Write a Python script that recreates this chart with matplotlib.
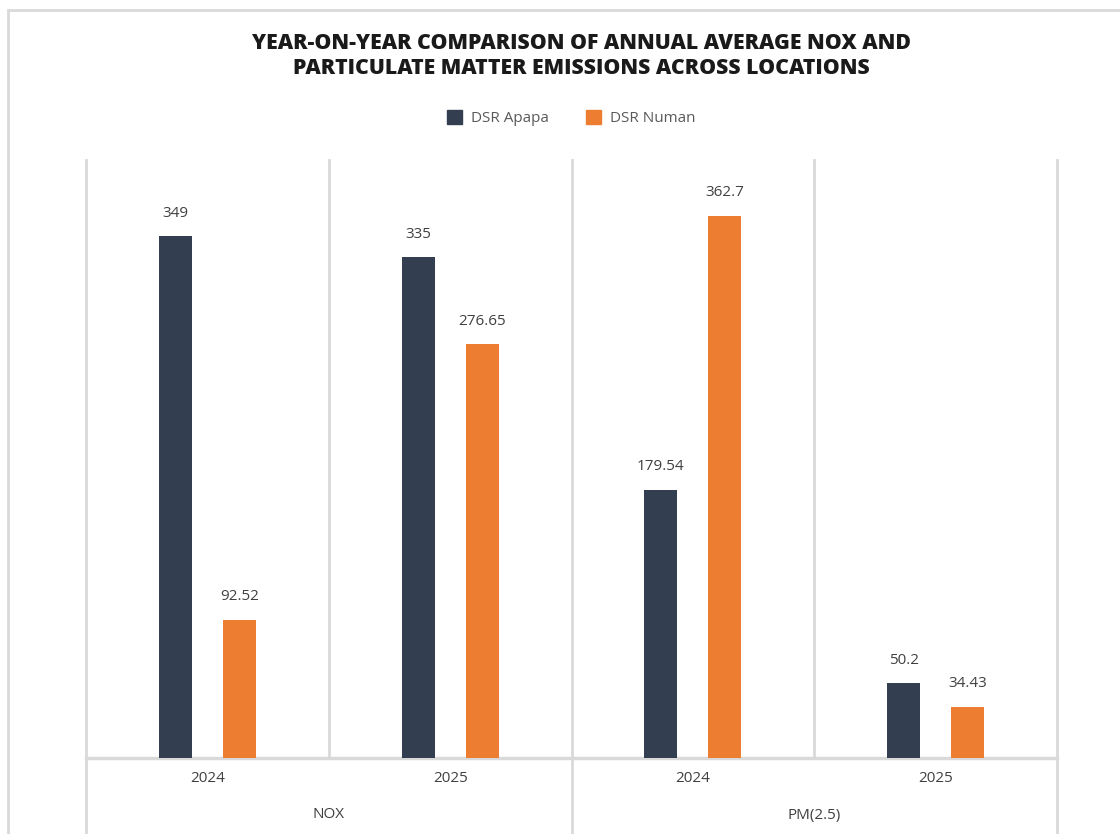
import matplotlib.pyplot as plt
import matplotlib.transforms as mtransforms
from matplotlib.patches import Rectangle, Patch
import numpy as np

plt.rcParams['font.family'] = ['Open Sans', 'DejaVu Sans']

# data
pollutants = ["NOX", "PM(2.5)"]
years = ["2024", "2025", "2024", "2025"]
apapa = [349, 335, 179.54, 50.2]
numan = [92.52, 276.65, 362.7, 34.43]
apapa_labels = ["349", "335", "179.54", "50.2"]
numan_labels = ["92.52", "276.65", "362.7", "34.43"]

C_APAPA = "#333f50"
C_NUMAN = "#ed7d31"
GRID = "#d9d9d9"
TXT = "#404040"

fig = plt.figure(figsize=(11.2, 8.34), dpi=100)
fig.patch.set_facecolor("white")

# outer frame (cropped at right/bottom)
fig.patches.append(Rectangle((8 / 1120, -0.1), 1.2, 1 - 10 / 834 + 0.1,
                             transform=fig.transFigure, fill=False,
                             edgecolor=GRID, linewidth=2))

ax = fig.add_axes([86 / 1120, 1 - 758 / 834, (1057 - 86) / 1120, (758 - 160) / 834])

x = np.arange(len(years))
w = 0.136
off = 0.132
b1 = ax.bar(x - off, apapa, w, color=C_APAPA, label="DSR Apapa", zorder=3)
b2 = ax.bar(x + off, numan, w, color=C_NUMAN, label="DSR Numan", zorder=3)

for bars, labs in [(b1, apapa_labels), (b2, numan_labels)]:
    for bar, lab in zip(bars, labs):
        ax.annotate(lab, (bar.get_x() + bar.get_width() / 2, bar.get_height()),
                    xytext=(0, 11), textcoords="offset points",
                    ha="center", va="bottom", fontsize=11, color=TXT)

ax.set_xlim(-0.5, len(years) - 0.5)
ax.set_ylim(0, 400)
for s in ax.spines.values():
    s.set_visible(False)
ax.set_yticks([])
ax.set_xticks([])

bounds = np.arange(len(years) + 1) - 0.5
for b in bounds:
    ax.axvline(b, color=GRID, linewidth=2, zorder=1, clip_on=False)
ax.axhline(0, color=GRID, linewidth=2.5, zorder=2, clip_on=False)

trans = mtransforms.blended_transform_factory(ax.transData, ax.transAxes)
px = 1 / ((758 - 160))  # one pixel in axes fraction (height)

# year labels
for xi, yr in zip(x, years):
    ax.text(xi, -20 * px, yr, transform=trans, ha="center", va="center",
            fontsize=11, color=TXT)

# group labels and group separators
n_per = 2
for gi, g in enumerate(pollutants):
    cx = gi * n_per + (n_per - 1) / 2
    ax.text(cx, -57 * px, g, transform=trans, ha="center", va="center",
            fontsize=11, color=TXT)
for b in bounds[::n_per]:
    ax.plot([b, b], [0, -80 * px], transform=trans, color=GRID,
            linewidth=2, clip_on=False)

fig.text(581 / 1120, 1 - 56 / 834,
         "YEAR-ON-YEAR COMPARISON OF ANNUAL AVERAGE NOX AND\nPARTICULATE MATTER EMISSIONS ACROSS LOCATIONS",
         ha="center", va="center", fontsize=15.3, fontweight="heavy",
         color="#1a1a1a", linespacing=1.25)

handles = [Patch(color=C_APAPA), Patch(color=C_NUMAN)]
fig.legend(handles, ["DSR Apapa", "DSR Numan"], loc="center",
           bbox_to_anchor=(571 / 1120, 1 - 118 / 834), ncol=2, frameon=False,
           fontsize=11, labelcolor="#595959", handlelength=1.0, handleheight=1.0,
           columnspacing=2.4, handletextpad=0.6)

fig.savefig("out.png", dpi=100)
